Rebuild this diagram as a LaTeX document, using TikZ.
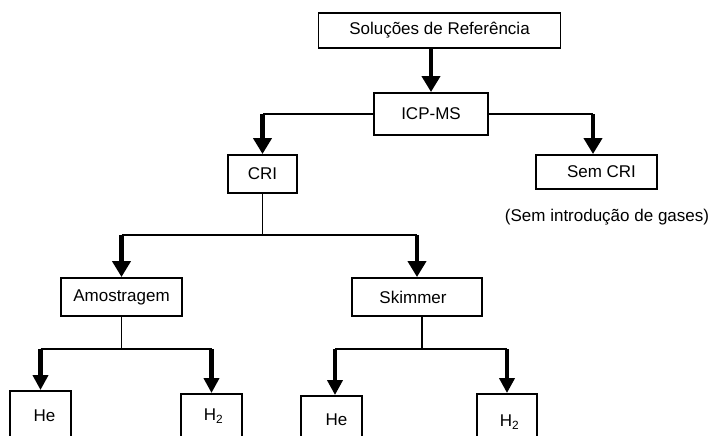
\documentclass[tikz,border=0pt]{standalone}
\usepackage{fontspec}
\setmainfont{Liberation Sans}
\usetikzlibrary{arrows.meta}
\begin{document}
\begin{tikzpicture}[x=1pt,y=-1pt,
  box/.style={draw,line width=1.9pt,inner sep=0pt,font=\fontsize{17}{20}\selectfont},
  lbl/.style={inner sep=0pt,font=\fontsize{17}{20}\selectfont},
  thinline/.style={line width=1.9pt},
  bigarrow/.style={line width=4.5pt,-{Triangle[width=18pt,length=16pt]}},
  smallarrow/.style={line width=4.5pt,-{Triangle[width=15pt,length=15pt]}}]
\clip (0,0) rectangle (712,436);
\fill[white] (0,0) rectangle (712,436);
% nodes
\node[box,minimum width=242pt,minimum height=35pt] (sol) at (439.5,30.5) {Soluções de Referência};
\node[box,minimum width=114pt,minimum height=42pt] (icp) at (431,114) {ICP-MS};
\node[box,minimum width=121pt,minimum height=34pt] (sem) at (596.5,172) {\hspace*{10pt}Sem CRI};
\node[lbl] (gases) at (607,217) {(Sem introdução de gases)};
\node[box,minimum width=69pt,minimum height=38pt] (cri) at (262.5,174) {CRI};
\node[box,minimum width=121pt,minimum height=38pt] (amo) at (121.5,297) {Amostragem};
\node[box,minimum width=130pt,minimum height=38pt] (ski) at (417,297) {Skimmer\hspace*{8pt}};
\node[box,minimum width=61pt,minimum height=49pt] (he1) at (40.5,415.5) {\hspace*{8pt}He};
\node[box,minimum width=61pt,minimum height=44pt] (h21) at (211.5,416) {\hspace*{4pt}H\textsubscript{2}};
\node[box,minimum width=61pt,minimum height=48pt] (he2) at (331.5,420) {\hspace*{10pt}He};
\node[box,minimum width=60pt,minimum height=56pt] (h22) at (507,422) {\hspace*{5pt}H\textsubscript{2}};
% junctions
\coordinate (jl) at (cri.north |- icp.west);
\coordinate (jr) at (593,114);
\coordinate (jc) at (cri.south |- 0,235);
\coordinate (ja) at (amo.north |- 0,235);
\coordinate (js) at (ski.north |- 0,235);
\coordinate (ka) at (amo.south |- 0,349);
\coordinate (kah) at (he1.north |- 0,349);
\coordinate (kaw) at (h21.north |- 0,349);
\coordinate (ks) at (422,349);
\coordinate (ksc) at (422,316);
\coordinate (ksh) at (335,349);
\coordinate (ksw) at (h22.north |- 0,349);
% connectors
\draw[bigarrow] (sol.south -| icp.north) -- (icp.north);
\draw[thinline] (icp.west) -- (jl);
\draw[bigarrow] (jl) -- (cri.north);
\draw[thinline] (icp.east) -- (jr);
\draw[bigarrow] (jr) -- (jr |- sem.north);
\draw[thinline] (cri.south) -- (jc);
\draw[thinline] (ja) -- (js);
\draw[bigarrow] (ja) -- (amo.north);
\draw[bigarrow] (js) -- (ski.north);
\draw[thinline] (amo.south) -- (ka);
\draw[thinline] (kah) -- (kaw);
\draw[smallarrow] (kah) -- (he1.north);
\draw[smallarrow] (kaw) -- (h21.north);
\draw[thinline] (ksc) -- (ks);
\draw[thinline] (ksh) -- (ksw);
\draw[smallarrow] (ksh) -- (ksh |- he2.north);
\draw[smallarrow] (ksw) -- (h22.north);
\end{tikzpicture}
\end{document}
